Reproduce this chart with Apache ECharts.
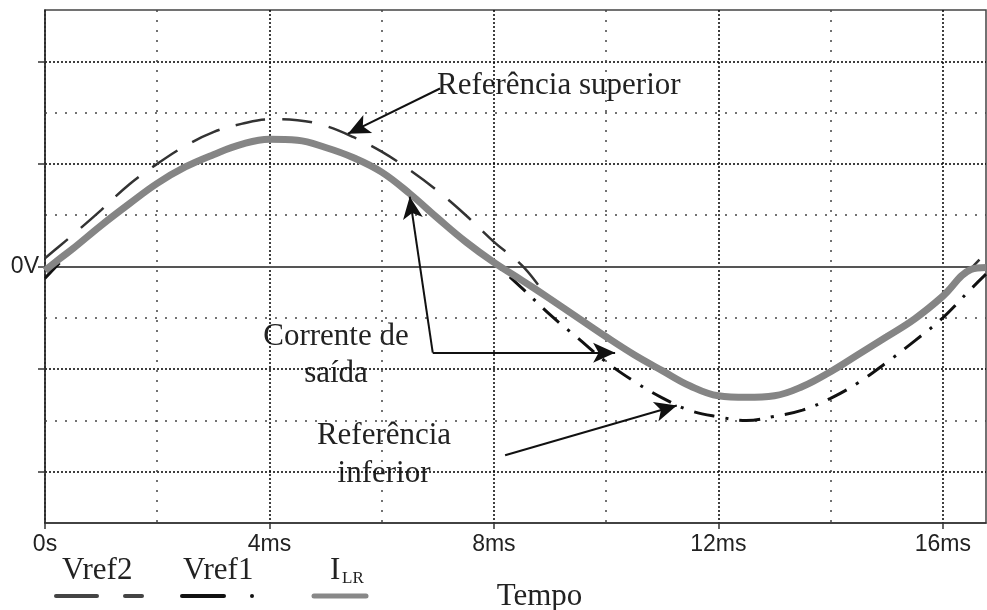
<!DOCTYPE html>
<html><head><meta charset="utf-8">
<script src="https://cdn.jsdelivr.net/npm/echarts@6/dist/echarts.min.js"></script>
<style>html,body{margin:0;padding:0;background:#fff}#c{width:987px;height:610px}</style>
</head><body><div id="c"></div>
<script>
// ---- data ----
const timeMs = [0,0.25,0.5,1,1.5,2,2.5,3,3.5,4,4.5,5,5.5,6,6.5,7,7.5,8,8.5,9,9.5,10,10.5,11,11.5,12,12.5,13,13.5,14,14.5,15,15.5,16,16.5,16.77];
const ilrValues = [-0.08,0.14,0.35,0.80,1.22,1.62,1.94,2.18,2.38,2.48,2.46,2.32,2.12,1.84,1.42,0.94,0.48,0.08,-0.27,-0.63,-1.00,-1.37,-1.72,-2.03,-2.33,-2.52,-2.55,-2.52,-2.34,-2.05,-1.71,-1.37,-1.02,-0.58,-0.06,-0.02];
const vref2Values = [0.16,0.39,0.62,1.10,1.60,2.00,2.35,2.62,2.78,2.87,2.85,2.74,2.52,2.24,1.88,1.47,1.00,0.48,0.02,-0.61,-0.98,-1.35,-1.70,-2.01,-2.31,-2.50,-2.53,-2.50,-2.32,-2.03,-1.69,-1.35,-1.00,-0.56,-0.04,0.27];
const vref1Values = [-0.23,0.06,0.33,0.78,1.20,1.60,1.92,2.16,2.36,2.46,2.44,2.30,2.10,1.82,1.40,0.92,0.46,0.06,-0.42,-0.94,-1.40,-1.86,-2.24,-2.56,-2.81,-2.93,-3.00,-2.92,-2.80,-2.57,-2.26,-1.87,-1.45,-1.00,-0.44,-0.15];

const xMax = 16.77;
const xTickValues = [0,4,8,12,16];
const xTickLabels = ['0s','4ms','8ms','12ms','16ms'];
const xMinorValues = [2,6,10,14];
const yMajorValues = [-4,-2,0,2,4];
const yMinorValues = [-3,-1,1,3];
const yLabelValues = [0];
const yLabelTexts = ['0V'];
const xName = 'Tempo';
const seriesNames = ['Vref2','Vref1','ILR'];

// annotation arrows (data coordinates: ms, V)
const arrowSuperior = [[7.04,3.47],[5.40,2.59]];
const arrowCorrenteUp = [[6.91,-1.68],[6.50,1.36]];
const arrowCorrenteRight = [[6.91,-1.68],[10.16,-1.68]];
const arrowInferior = [[8.20,-3.68],[11.26,-2.71]];

const serif = "'Liberation Serif','Times New Roman',serif";
const sans = "'Liberation Sans',Arial,sans-serif";
const pairs = vals => timeMs.map((t,i)=>[t, vals[i]]);
const arrow = a => [{coord:a[0]},{coord:a[1]}];

const chart = echarts.init(document.getElementById('c'), null, {renderer:'canvas'});
const option = {
  animation:false,
  backgroundColor:'#fff',
  grid:{left:45,right:1,top:10,bottom:87,show:true,borderColor:'#444',borderWidth:1.5,outerBoundsMode:'none'},
  xAxis:[
    {type:'value',min:0,max:xMax,interval:4,position:'bottom',
     axisLine:{show:true,onZero:false,lineStyle:{color:'#333',width:1.5}},
     axisTick:{show:true,customValues:xTickValues,length:6,lineStyle:{color:'#333',width:1.5}},
     axisLabel:{customValues:xTickValues,formatter:v=>{const i=xTickValues.indexOf(v);return i>=0?xTickLabels[i]:'';},margin:10,fontFamily:sans,fontSize:23,color:'#222'},
     splitLine:{show:true,lineStyle:{color:'#000',width:1.5,type:[2,2]}},
     name:xName,nameLocation:'middle',nameGap:58,nameTextStyle:{fontFamily:serif,fontSize:31,color:'#222',padding:[0,0,0,48]}
    },
    {type:'value',min:0,max:xMax,interval:2,position:'bottom',
     axisLine:{show:false,onZero:false},axisTick:{show:false,customValues:xMinorValues},axisLabel:{show:false},
     splitLine:{show:true,lineStyle:{color:'#444',width:1.5,type:[2,8]}}
    }
  ],
  yAxis:[
    {type:'value',min:-5,max:5,interval:1,
     axisLine:{show:true,onZero:false,lineStyle:{color:'#333',width:1.5}},
     axisTick:{show:true,customValues:yMajorValues,length:7,lineStyle:{color:'#333',width:1.5}},
     axisLabel:{customValues:yLabelValues,formatter:v=>{const i=yLabelValues.indexOf(v);return i>=0?yLabelTexts[i]:'';},margin:6,fontFamily:sans,fontSize:23,color:'#222'},
     splitLine:{show:true,lineStyle:{color:'#000',width:1.5,type:[2,2]}}
    },
    {type:'value',min:-5,max:5,interval:1,
     axisLine:{show:false,onZero:false},axisTick:{show:false,customValues:yMinorValues},axisLabel:{show:false},
     splitLine:{show:true,lineStyle:{color:'#444',width:1.5,type:[2,8]}}
    }
  ],
  series:[
    {name:seriesNames[0],type:'line',data:pairs(vref2Values),smooth:0.4,symbol:'none',z:2,
     lineStyle:{color:'#333',width:2.5,type:[30,17]},
     markLine:{silent:true,symbol:'none',z:1,label:{show:false},animation:false,
       lineStyle:{color:'#555',width:2,type:'solid'},data:[{yAxis:0}]}},
    {name:seriesNames[1],type:'line',data:pairs(vref1Values),smooth:0.4,symbol:'none',z:2,
     lineStyle:{color:'#111',width:3,type:[21,11,3,11]}},
    {name:seriesNames[2],type:'line',data:pairs(ilrValues),smooth:0.4,symbol:'none',z:3,
     lineStyle:{color:'#858585',width:7},
     markLine:{silent:true,symbol:['none','arrow'],symbolSize:[15,22],label:{show:false},animation:false,
       lineStyle:{color:'#111',width:2,type:'solid'},
       data:[arrow(arrowSuperior),arrow(arrowCorrenteUp),arrow(arrowCorrenteRight),arrow(arrowInferior)]}}
  ],
  graphic:[
    {type:'text',x:437,y:86,style:{text:'Referência superior',fontFamily:serif,fontSize:31,fill:'#222',align:'left',verticalAlign:'middle'}},
    {type:'text',x:336,y:337,style:{text:'Corrente de',fontFamily:serif,fontSize:31,fill:'#222',align:'center',verticalAlign:'middle'}},
    {type:'text',x:336,y:374,style:{text:'saída',fontFamily:serif,fontSize:31,fill:'#222',align:'center',verticalAlign:'middle'}},
    {type:'text',x:384,y:436,style:{text:'Referência',fontFamily:serif,fontSize:31,fill:'#222',align:'center',verticalAlign:'middle'}},
    {type:'text',x:384,y:474,style:{text:'inferior',fontFamily:serif,fontSize:31,fill:'#222',align:'center',verticalAlign:'middle'}},
    // legend
    {type:'text',x:62,y:571,style:{text:seriesNames[0],fontFamily:serif,fontSize:31,fill:'#222',align:'left',verticalAlign:'middle'}},
    {type:'line',shape:{x1:56,y1:596,x2:97,y2:596},style:{stroke:'#444',lineWidth:4,lineCap:'round'}},
    {type:'line',shape:{x1:125,y1:596,x2:142,y2:596},style:{stroke:'#444',lineWidth:4,lineCap:'round'}},
    {type:'text',x:183,y:571,style:{text:seriesNames[1],fontFamily:serif,fontSize:31,fill:'#222',align:'left',verticalAlign:'middle'}},
    {type:'line',shape:{x1:182,y1:596,x2:224,y2:596},style:{stroke:'#111',lineWidth:4,lineCap:'round'}},
    {type:'circle',shape:{cx:252,cy:596,r:2},style:{fill:'#111'}},
    {type:'text',x:330,y:571,style:{text:'I',fontFamily:serif,fontSize:31,fill:'#222',align:'left',verticalAlign:'middle'}},
    {type:'text',x:342,y:579,style:{text:'LR',fontFamily:serif,fontSize:17,fill:'#222',align:'left',verticalAlign:'middle'}},
    {type:'line',shape:{x1:314,y1:596,x2:366,y2:596},style:{stroke:'#888',lineWidth:5,lineCap:'round'}}
  ]
};
chart.setOption(option);
</script>
</body></html>
